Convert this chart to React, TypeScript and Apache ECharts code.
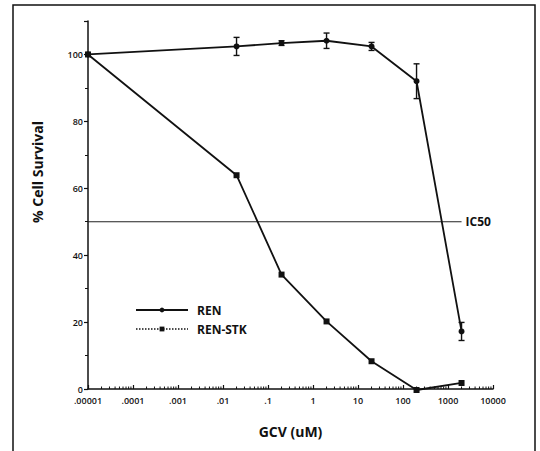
import React, { useEffect, useRef } from "react";
import * as echarts from "echarts";

// GCV concentrations (uM)
const concentrations = [0.00001, 0.02, 0.2, 2, 20, 200, 2000];
// % cell survival
const renSurvival = [100, 102.4, 103.4, 104.1, 102.4, 92.0, 17.2];
const renError = [0, 2.7, 0.7, 2.3, 1.2, 5.2, 2.7];
const renStkSurvival = [100, 63.9, 34.2, 20.2, 8.3, -0.3, 1.8];
// IC50 reference line
const ic50Level = 50;
const ic50Range = [0.00001, 2000];
// tick labels
const xTickLabels = [".00001", ".0001", ".001", ".01", ".1", "1", "10", "100", "1000", "10000"];
const yTickLabels = ["0", "20", "40", "60", "80", "100"];
const decades = [-5, -4, -3, -2, -1, 0, 1, 2, 3];
const minorMultipliers = [2, 3, 4, 5, 6, 7, 8, 9];

const FONT = "'Open Sans', 'DejaVu Sans', sans-serif";

export default function App() {
  const ref = useRef<HTMLDivElement>(null);
  useEffect(() => {
    if (!ref.current) return;
    const chart = echarts.init(ref.current, undefined, { renderer: "svg" });

    const minorTicks: number[][] = [];
    decades.forEach((d) => minorMultipliers.forEach((m) => minorTicks.push([m * Math.pow(10, d), 0])));

    const errData = concentrations.map((c, i) => [c, renSurvival[i], renError[i]]);

    chart.setOption({
      animation: false,
      backgroundColor: "#fff",
      grid: { left: 88, right: 47, top: 21, bottom: 62 },
      xAxis: {
        type: "log",
        logBase: 10,
        min: 0.00001,
        max: 10000,
        name: "GCV (uM)",
        nameLocation: "middle",
        nameGap: 35,
        nameTextStyle: { fontFamily: FONT, fontWeight: "bold", fontSize: 14, color: "#111" },
        axisLine: { lineStyle: { color: "#111", width: 1.5 } },
        axisTick: { inside: true, length: 4, lineStyle: { color: "#111", width: 1.2 } },
        axisLabel: {
          fontFamily: FONT,
          fontSize: 9,
          fontWeight: 600,
          color: "#111",
          margin: 7,
          formatter: (v: number) => {
            const idx = Math.round(Math.log10(v)) + 5;
            return xTickLabels[idx] ?? "";
          },
        },
        splitLine: { show: false },
        minorTick: { show: false },
      },
      yAxis: {
        type: "value",
        min: 0,
        max: 110,
        interval: 20,
        axisLine: { show: true, lineStyle: { color: "#111", width: 1.5 } },
        axisTick: { show: true, length: 4, lineStyle: { color: "#111", width: 1.2 } },
        minorTick: { show: true, splitNumber: 2, length: 3, lineStyle: { color: "#111", width: 1 } },
        axisLabel: {
          fontFamily: FONT,
          fontSize: 9,
          fontWeight: 600,
          color: "#111",
          margin: 5,
          formatter: (v: number) => (yTickLabels.includes(String(v)) ? String(v) : ""),
        },
        splitLine: { show: false },
      },
      legend: {
        orient: "vertical",
        left: 130,
        top: 299,
        itemWidth: 52,
        itemHeight: 6,
        itemGap: 7,
        textStyle: { fontFamily: FONT, fontWeight: "bold", fontSize: 12, color: "#111", padding: [0, 0, 0, 4] },
        data: [
          { name: "REN" },
          { name: "REN-STK", lineStyle: { type: "dotted", width: 1.5 } },
        ],
      },
      graphic: [
        {
          type: "rect",
          shape: { x: 13, y: 5, width: 522, height: 470 },
          style: { fill: "none", stroke: "#111", lineWidth: 1.5 },
          silent: true,
        },
        {
          type: "text",
          x: 37,
          y: 172,
          rotation: Math.PI / 2,
          style: {
            text: "% Cell Survival",
            fontFamily: FONT,
            fontWeight: "bold",
            fontSize: 14,
            fill: "#111",
            align: "center",
            verticalAlign: "middle",
          },
        },
      ],
      series: [
        {
          name: "REN",
          type: "line",
          data: concentrations.map((c, i) => [c, renSurvival[i]]),
          symbol: "circle",
          symbolSize: 6,
          clip: false,
          itemStyle: { color: "#111" },
          lineStyle: { color: "#111", width: 1.8 },
          z: 3,
        },
        {
          name: "REN-STK",
          type: "line",
          data: concentrations.map((c, i) => [c, renStkSurvival[i]]),
          symbol: "rect",
          symbolSize: 6,
          clip: false,
          itemStyle: { color: "#111" },
          lineStyle: { color: "#111", width: 1.8 },
          z: 3,
        },
        {
          name: "IC50",
          type: "line",
          data: ic50Range.map((c) => [c, ic50Level]),
          symbol: "none",
          lineStyle: { color: "#222", width: 1.2 },
          endLabel: {
            show: true,
            formatter: "IC50",
            fontFamily: FONT,
            fontWeight: "bold",
            fontSize: 12,
            color: "#111",
            distance: 4,
          },
          z: 2,
        },
        {
          name: "err",
          type: "custom",
          data: errData,
          renderItem: (params: any, api: any) => {
            const x = api.value(0);
            const y = api.value(1);
            const e = api.value(2);
            if (!e) return null;
            const top = api.coord([x, y + e]);
            const bot = api.coord([x, y - e]);
            const cap = 3;
            const style = { stroke: "#111", lineWidth: 1.4 };
            return {
              type: "group",
              children: [
                { type: "line", shape: { x1: top[0], y1: top[1], x2: bot[0], y2: bot[1] }, style },
                { type: "line", shape: { x1: top[0] - cap, y1: top[1], x2: top[0] + cap, y2: top[1] }, style },
                { type: "line", shape: { x1: bot[0] - cap, y1: bot[1], x2: bot[0] + cap, y2: bot[1] }, style },
              ],
            };
          },
          z: 4,
        },
        {
          name: "minorTicks",
          type: "custom",
          data: minorTicks,
          renderItem: (params: any, api: any) => {
            const p = api.coord([api.value(0), 0]);
            return {
              type: "line",
              shape: { x1: p[0], y1: p[1], x2: p[0], y2: p[1] - 2.5 },
              style: { stroke: "#111", lineWidth: 1 },
            };
          },
          z: 1,
        },
      ],
    });
    return () => chart.dispose();
  }, []);
  return <div ref={ref} style={{ width: 540, height: 451, position: "absolute", left: 0, top: 0 }} />;
}
